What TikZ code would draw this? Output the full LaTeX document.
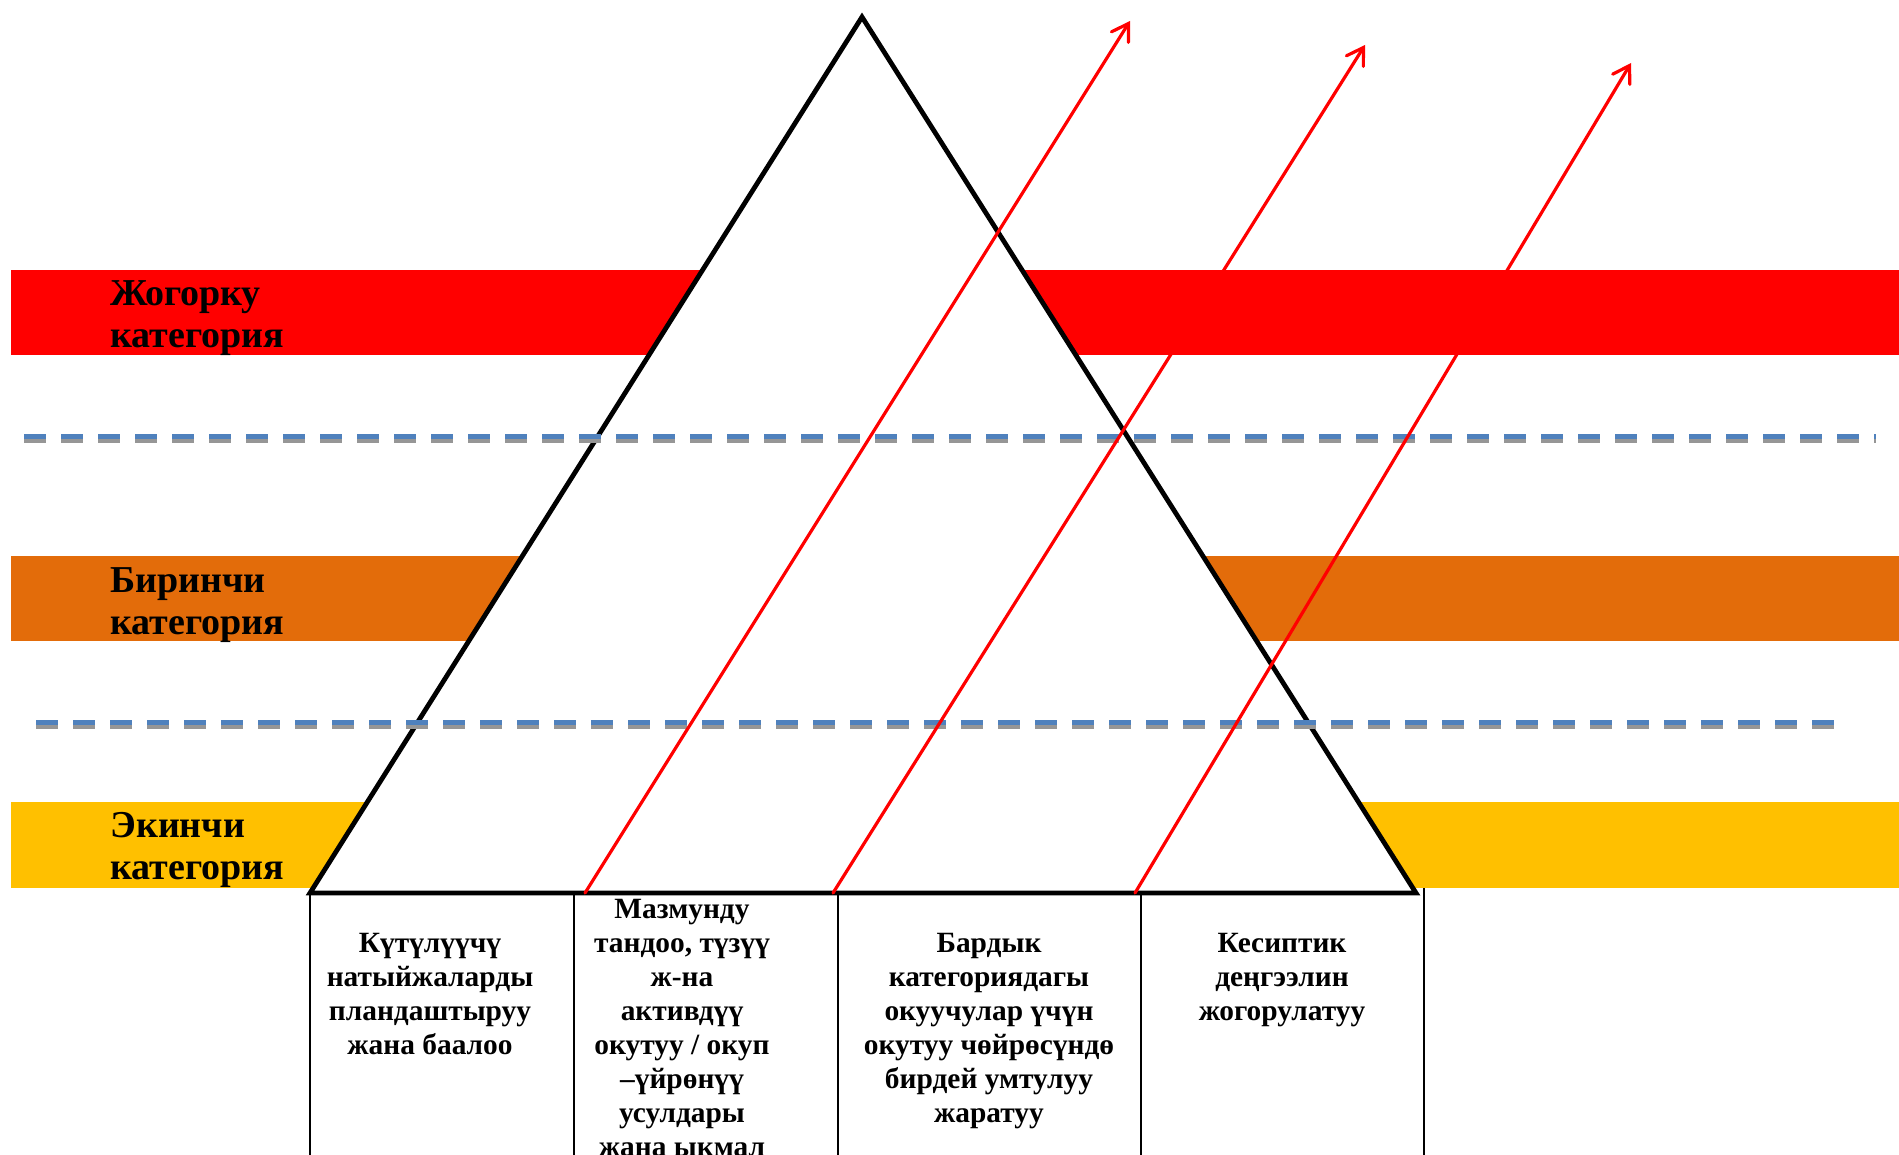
\documentclass[tikz,border=0pt]{standalone}
\usepackage{fontspec}
\setmainfont{Liberation Serif}
\usetikzlibrary{arrows.meta}
\definecolor{bandred}{RGB}{255,0,0}
\definecolor{bandorange}{RGB}{227,108,10}
\definecolor{bandyellow}{RGB}{255,192,0}
\definecolor{dashblue}{RGB}{79,129,189}
\definecolor{dashgray}{RGB}{150,150,150}

\begin{document}
\begin{tikzpicture}[x=0.5pt,y=-0.5pt,
    cat/.style={anchor=base west, align=left, inner sep=0pt, font=\fontsize{19pt}{21pt}\selectfont\bfseries},
    cell/.style={anchor=base, align=center, inner sep=0pt, font=\fontsize{14.7pt}{17pt}\selectfont\bfseries},
    sepblue/.style={dashblue, line width=2.5pt, dash pattern=on 11pt off 7.5pt},
    sepgray/.style={dashgray, line width=2pt, dash pattern=on 11pt off 7.5pt},
    ray/.style={red, line width=1.6pt, line cap=round, -{Straight Barb[length=8pt,width=10pt,line cap=round]}}]
    \clip (0,0) rectangle (1899,1155);

    % bands
    \fill[bandred] (11,270) rectangle (1899,355);
    \fill[bandorange] (11,556) rectangle (1899,641);
    \fill[bandyellow] (11,802) rectangle (1899,888);

    % labels sit on the baseline of their last line
    \node[cat] (high) at (110,347) {Жогорку\\категория};
    \node[cat] (first) at (110,634) {Биринчи\\категория};
    \node[cat] (second) at (110,879) {Экинчи\\категория};

    % pyramid
    \coordinate (apex) at (862,17);
    \coordinate (bl) at (310,893);
    \coordinate (br) at (1416,893);
    \draw[line width=2.4pt, fill=white] (apex) -- (bl) -- (br) -- cycle;

    % dashed separators
    \foreach \y/\xa/\xb in {436.5/24/1876, 722.5/36/1849} {
        \draw[sepblue] (\xa,\y) -- (\xb,\y);
        \draw[sepgray] (\xa,\y+4.5) -- (\xb,\y+4.5);
    }

    % table under the base
    \foreach \x in {310,574,838,1141}
        \draw[line width=1.3pt] (\x,893) -- (\x,1160);
    \draw[line width=1.3pt] (1424,888) -- (1424,1160);

    \node[cell] (c1) at (430,1054) {Күтүлүүчү\\натыйжаларды\\пландаштыруу\\жана баалоо};
    \node[cell] (c2) at (682,1156) {Мазмунду\\тандоо, түзүү\\ж-на\\активдүү\\окутуу / окуп\\–үйрөнүү\\усулдары\\жана ыкмал};
    \node[cell] (c3) at (989,1122) {Бардык\\категориядагы\\окуучулар үчүн\\окутуу чөйрөсүндө\\бирдей умтулуу\\жаратуу};
    \node[cell] (c4) at (1282,1020) {Кесиптик\\деңгээлин\\жогорулатуу};

    % rays
    \coordinate (s1) at (585,893);  \coordinate (e1) at (1130,21);
    \coordinate (s2) at (833,893);  \coordinate (e2) at (1365,45);
    \coordinate (s3) at (1135,893); \coordinate (e3) at (1631,63);
    \draw[ray] (s1) -- (e1);
    \draw[ray] (s2) -- (e2);
    \draw[ray] (s3) -- (e3);
\end{tikzpicture}
\end{document}
